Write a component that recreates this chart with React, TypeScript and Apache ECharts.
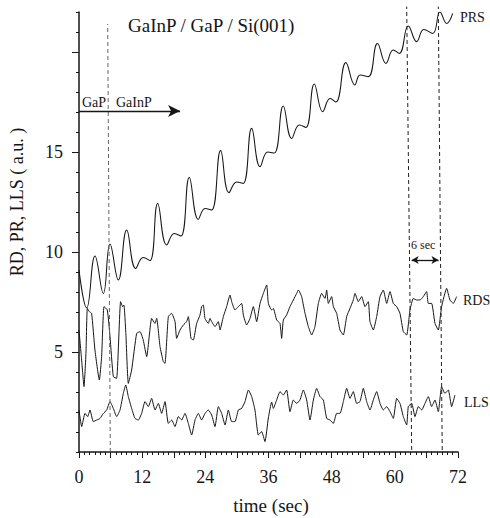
import React, { useEffect, useRef } from 'react';
import * as echarts from 'echarts';

// ---- data ----
const prsT = [0, 1.46, 3.04, 4.62, 5.89, 7.47, 9.06, 10.77, 12.2, 13.49,
  14.95, 16.66, 18.1, 19.38, 20.95, 22.66, 23.94, 25.2, 26.9, 28.5,
  29.96, 31.2, 32.8, 34.4, 35.85, 37.1, 38.8, 40.4, 41.85, 43.1,
  44.7, 46.3, 47.7, 48.8, 50.7, 52.4, 53.4, 54.96, 56.7, 58.3,
  59.7, 60.85, 62.56, 64.15, 65.5, 67.2, 68.58, 69.85, 71.0];
const prsV = [9.1, 7.2, 9.8, 7.93, 10.4, 8.6, 11.1, 9.18, 9.73, 9.57,
  12.43, 10.35, 10.93, 10.8, 13.73, 11.63, 12.18, 12.1, 15.07, 12.97,
  13.5, 13.43, 16.18, 14.27, 15.0, 14.95, 17.3, 15.68, 16.35, 16.23,
  18.4, 17.02, 17.68, 17.5, 19.47, 18.35, 18.85, 18.77, 20.43, 19.43,
  20.1, 19.93, 21.3, 20.52, 21.13, 20.93, 22.0, 21.43, 21.93];

const rdsT = [0, 0.5, 0.95, 1.33, 1.58, 1.96, 2.4, 3.03, 3.86, 4.3,
  4.75, 5.38, 5.89, 6.52, 7.15, 7.9, 8.28, 8.53, 8.9, 9.37,
  10.0, 10.95, 11.58, 12.2, 12.86, 13.8, 14.44, 14.76, 15.39, 16.02,
  16.34, 16.97, 17.6, 18.24, 18.55, 19.19, 19.82, 20.45, 20.77, 21.28,
  21.72, 22.35, 22.99, 23.3, 23.62, 23.93, 24.57, 24.89, 25.2, 25.84,
  26.47, 26.79, 27.42, 28.05, 28.69, 29.0, 29.64, 30.27, 30.9, 31.22,
  31.85, 32.49, 33.12, 33.75, 34.39, 35.02, 35.65, 35.97, 36.6, 36.92,
  37.55, 38.18, 38.5, 38.82, 39.45, 40.08, 40.72, 41.35, 41.67, 42.3,
  42.62, 42.94, 43.57, 44.2, 44.83, 45.47, 46.1, 46.73, 47.05, 47.37,
  48.0, 48.32, 48.95, 49.58, 50.22, 50.85, 51.48, 52.11, 52.43, 53.06,
  53.7, 54.33, 54.96, 55.28, 55.91, 56.55, 57.18, 57.81, 58.45, 59.08,
  59.71, 60.35, 60.98, 61.61, 62.25, 62.88, 63.51, 64.14, 64.78, 65.41,
  66.04, 66.36, 66.99, 67.63, 68.26, 68.89, 69.84, 70.47, 71.11, 71.74];
const rdsV = [6.1, 4.6, 3.27, 5.0, 7.18, 7.02, 6.93, 5.1, 3.6, 4.77,
  7.27, 7.1, 5.77, 3.77, 3.68, 7.52, 7.27, 7.35, 5.93, 3.43,
  4.1, 5.93, 6.02, 5.6, 4.77, 6.68, 6.43, 6.68, 5.27, 4.52,
  4.43, 6.77, 6.93, 6.52, 5.68, 6.1, 6.35, 6.52, 6.77, 5.68,
  5.6, 6.43, 6.85, 7.27, 7.35, 6.68, 6.43, 6.68, 6.52, 6.27,
  6.52, 6.1, 6.77, 7.27, 7.85, 7.52, 7.1, 7.27, 7.43, 6.85,
  6.35, 6.68, 7.27, 6.52, 7.43, 7.93, 8.35, 7.43, 7.1, 7.18,
  6.6, 6.43, 5.68, 6.6, 6.85, 7.27, 7.6, 7.93, 8.1, 7.77,
  7.35, 6.93, 6.27, 5.85, 6.27, 7.43, 7.93, 7.68, 8.1, 7.43,
  7.77, 7.27, 6.93, 6.1, 5.85, 6.77, 7.18, 7.6, 7.93, 7.52,
  7.77, 7.27, 7.52, 6.52, 6.1, 6.77, 7.77, 8.1, 7.43, 8.02,
  7.43, 7.27, 6.93, 6.02, 5.85, 7.1, 7.68, 7.6, 7.6, 7.77,
  8.02, 7.43, 7.43, 6.43, 6.1, 7.27, 8.18, 7.6, 7.43, 7.77];

const llsT = [0, 0.51, 1.14, 1.65, 2.09, 2.72, 3.36, 3.99, 4.62, 5.26,
  5.89, 6.52, 7.16, 7.79, 8.42, 8.87, 9.37, 10.0, 10.64, 11.27,
  11.9, 12.54, 13.17, 13.8, 14.44, 15.07, 15.7, 16.34, 16.97, 17.6,
  18.24, 18.87, 19.5, 20.14, 20.77, 21.4, 22.04, 22.67, 23.3, 23.93,
  24.57, 25.2, 25.84, 26.47, 27.1, 27.74, 28.37, 29.0, 29.64, 30.27,
  30.9, 31.54, 32.17, 32.8, 33.43, 34.07, 34.7, 35.33, 35.97, 36.6,
  36.92, 37.55, 38.18, 38.82, 39.45, 40.08, 40.72, 41.35, 41.98, 42.62,
  43.25, 43.88, 44.52, 45.15, 45.78, 46.42, 47.05, 47.68, 48.32, 48.95,
  49.58, 50.22, 50.85, 51.48, 52.11, 52.75, 53.38, 54.01, 54.65, 55.28,
  55.91, 56.55, 57.18, 57.81, 58.45, 59.08, 59.71, 60.35, 60.98, 61.61,
  62.25, 62.56, 63.2, 63.83, 64.46, 65.1, 65.73, 66.36, 66.99, 67.63,
  68.26, 68.89, 69.52, 70.16, 70.79, 71.42];
const llsV = [2.1, 1.27, 1.93, 1.77, 2.1, 1.52, 1.6, 1.68, 1.93, 2.1,
  2.52, 2.18, 1.77, 2.1, 2.93, 3.35, 2.77, 2.18, 1.68, 1.6,
  1.93, 2.52, 2.27, 2.68, 2.1, 2.43, 1.93, 2.52, 1.43, 1.6,
  1.27, 1.77, 1.6, 1.93, 1.43, 0.85, 1.6, 1.93, 1.6, 1.93,
  2.1, 1.85, 1.27, 2.27, 1.93, 1.35, 2.1, 1.52, 1.52, 2.1,
  2.18, 2.52, 3.1, 2.77, 2.1, 0.85, 1.02, 0.52, 1.7, 2.5,
  2.18, 2.6, 3.02, 2.85, 3.1, 2.02, 2.6, 2.43, 2.6, 3.1,
  2.6, 1.6, 2.6, 3.18, 2.77, 2.6, 1.68, 1.6, 1.43, 1.93,
  1.93, 2.52, 3.18, 2.68, 3.02, 2.43, 2.52, 3.18, 2.52, 2.1,
  2.6, 3.02, 2.43, 2.1, 2.27, 2.02, 1.68, 2.68, 2.43, 1.77,
  1.35, 2.27, 2.43, 1.77, 2.27, 2.1, 2.43, 2.77, 2.27, 2.6,
  2.02, 3.27, 2.93, 3.1, 2.27, 2.85];

// x ticks / labels
const xLabelValues = [0, 12, 24, 36, 48, 60, 72];
const yLabelValues = [5, 10, 15];
const yMajorTicks = [5, 10, 15, 20];

// annotation lines (time, value)
const guide1 = [[5.95, 0], [5.45, 21.4]];
const guide2 = [[63.2, 0.1], [62.25, 22.27]];
const guide3 = [[69.0, 0.1], [68.26, 22.27]];

const FONT = '"Liberation Serif", "Times New Roman", serif';
const INK = '#161616';

const pairs = (t: number[], v: number[]) => t.map((x, i) => [x, v[i]]);

export default function App() {
  const ref = useRef<HTMLDivElement>(null);
  useEffect(() => {
    if (!ref.current) return;
    const chart = echarts.init(ref.current, null, { renderer: 'svg' });
    const dashed = (data: number[][], color: string, extra: any = {}) => ({
      type: 'line',
      data,
      symbol: 'none',
      clip: false,
      silent: true,
      lineStyle: { color, width: 1, type: [4, 3] },
      ...extra,
    });
    const option: any = {
      animation: false,
      backgroundColor: '#ffffff',
      grid: { left: 79, right: 32, top: 12, bottom: 66 },
      xAxis: {
        type: 'value',
        min: 0,
        max: 72,
        interval: 6,
        axisLine: { lineStyle: { color: INK, width: 1.5 } },
        axisTick: { show: true, length: 6, lineStyle: { color: INK, width: 1 } },
        minorTick: { show: true, splitNumber: 6, length: 3, lineStyle: { color: INK, width: 1 } },
        axisLabel: {
          formatter: (v: number) => (xLabelValues.includes(v) ? String(v) : ''),
          fontFamily: FONT,
          fontSize: 18,
          color: INK,
          margin: 16,
        },
        splitLine: { show: false },
      },
      yAxis: [
        {
          type: 'value',
          min: 0,
          max: 22,
          interval: 1,
          axisLine: { show: true, lineStyle: { color: INK, width: 1.5 } },
          axisTick: { show: true, length: 3, lineStyle: { color: INK, width: 1 } },
          axisLabel: { show: false },
          splitLine: { show: false },
        },
        {
          type: 'value',
          min: 0,
          max: 22,
          interval: 5,
          position: 'left',
          offset: 0,
          axisLine: { show: false },
          axisTick: { show: true, length: 7, customValues: yMajorTicks, lineStyle: { color: INK, width: 1 } },
          axisLabel: {
            customValues: yLabelValues,
            formatter: (v: number) => (yLabelValues.includes(v) ? String(v) : ''),
            fontFamily: FONT,
            fontSize: 18,
            color: INK,
            margin: 16,
          },
          splitLine: { show: false },
        },
      ],
      series: [
        {
          name: 'PRS',
          type: 'line',
          data: pairs(prsT, prsV),
          symbol: 'none',
          smooth: 0.45,
          lineStyle: { color: INK, width: 1.05 },
        },
        {
          name: 'RDS',
          type: 'line',
          data: pairs(rdsT, rdsV),
          symbol: 'none',
          smooth: 0.15,
          lineStyle: { color: INK, width: 1 },
        },
        {
          name: 'LLS',
          type: 'line',
          data: pairs(llsT, llsV),
          symbol: 'none',
          smooth: 0.15,
          lineStyle: { color: INK, width: 1 },
        },
        dashed(guide1, '#666', {
          markLine: {
            silent: true,
            animation: false,
            label: { show: false },
            emphasis: { disabled: true },
            lineStyle: { color: INK, width: 1.3, type: 'solid' },
            data: [
              [
                { coord: [0, 17.05], symbol: 'none' },
                { coord: [19.2, 17.05], symbol: 'arrow', symbolSize: [9, 12] },
              ],
              [
                { coord: [63.2, 9.6], symbol: 'arrow', symbolSize: [6, 7] },
                { coord: [68.3, 9.6], symbol: 'arrow', symbolSize: [6, 7] },
              ],
            ],
          },
        }),
        dashed(guide2, '#222'),
        dashed(guide3, '#222'),
      ],
      graphic: [
        { type: 'text', x: 128, y: 25, style: { text: 'GaInP / GaP / Si(001)', font: `19px ${FONT}`, fill: INK, textVerticalAlign: 'middle' } },
        { type: 'text', x: 82, y: 102, style: { text: 'GaP', font: `14px ${FONT}`, fill: INK, textVerticalAlign: 'middle' } },
        { type: 'text', x: 116, y: 102, style: { text: 'GaInP', font: `14px ${FONT}`, fill: INK, textVerticalAlign: 'middle' } },
        { type: 'text', x: 460, y: 17, style: { text: 'PRS', font: `14px ${FONT}`, fill: INK, textVerticalAlign: 'middle' } },
        { type: 'text', x: 463, y: 300, style: { text: 'RDS', font: `14px ${FONT}`, fill: INK, textVerticalAlign: 'middle' } },
        { type: 'text', x: 464, y: 402, style: { text: 'LLS', font: `14px ${FONT}`, fill: INK, textVerticalAlign: 'middle' } },
        { type: 'text', x: 411, y: 245, style: { text: '6 sec', font: `12px ${FONT}`, fill: INK, textVerticalAlign: 'middle' } },
        { type: 'text', x: 271, y: 505, style: { text: 'time (sec)', font: `19px ${FONT}`, fill: INK, textAlign: 'center', textVerticalAlign: 'middle' } },
        { type: 'text', x: 17, y: 202, rotation: Math.PI / 2, style: { text: 'RD, PR, LLS ( a.u. )', font: `18px ${FONT}`, fill: INK, textAlign: 'center', textVerticalAlign: 'middle' } },
      ],
    };
    chart.setOption(option);
    return () => chart.dispose();
  }, []);
  return (
    <div
      ref={ref}
      style={{ position: 'absolute', left: 0, top: 0, width: 490, height: 518, background: '#fff' }}
    />
  );
}
